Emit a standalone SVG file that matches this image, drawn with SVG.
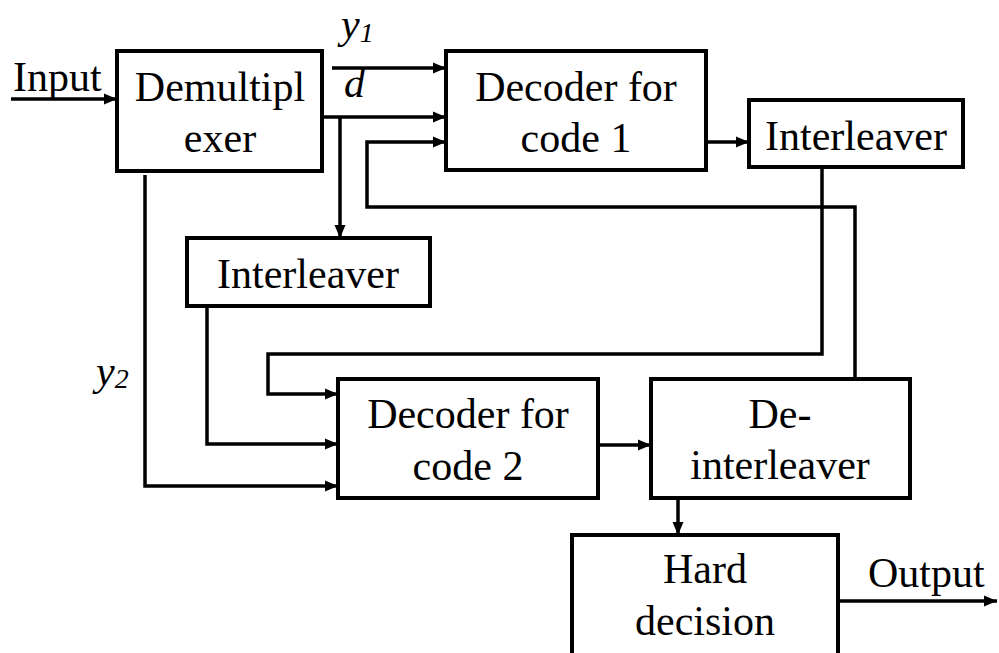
<svg xmlns="http://www.w3.org/2000/svg" width="999" height="653" viewBox="0 0 999 653">
<defs>
<marker id="ah" markerUnits="userSpaceOnUse" markerWidth="14" markerHeight="12" refX="13" refY="6" orient="auto">
<path d="M0,0.5 L13,6 L0,11.5 z" fill="#000"/>
</marker>
</defs>
<style>
.box{fill:#fff;stroke:#000;stroke-width:4}
.ln{fill:none;stroke:#000;stroke-width:3.5;marker-end:url(#ah)}
.t{font-family:'Liberation Serif','Times New Roman',serif;font-size:42px;fill:#000}
.c{text-anchor:middle}
.it{font-style:italic}
</style>
<rect width="999" height="653" fill="#fff"/>
<g id="connectors">
<path class="ln" d="M11,99 H117"/>
<path class="ln" d="M332,68 H446"/>
<path class="ln" d="M322,117 H446"/>
<path class="ln" d="M340,117 V238"/>
<path class="ln" d="M855,379 V207 H367 V142 H446"/>
<path class="ln" d="M706,142 H749"/>
<path class="ln" d="M822,167 V354 H268 V394 H338"/>
<path class="ln" d="M207,306 V444 H338"/>
<path class="ln" d="M145,175 V486 H338"/>
<path class="ln" d="M598,445 H651"/>
<path class="ln" d="M678,498 V535"/>
<path class="ln" d="M838,601 H997"/>
</g>
<g id="labels">
<text class="t" x="13" y="91">Input</text>
<text class="t it" x="341" y="38">y<tspan font-size="28" dy="4">1</tspan></text>
<text class="t it" x="344" y="97">d</text>
<text class="t it" x="96" y="385">y<tspan font-size="28" dy="3">2</tspan></text>
<text class="t" x="868" y="587">Output</text>
</g>
<g id="demux">
<rect class="box" x="117" y="51" width="205" height="120"/>
<text class="t c" x="220" y="101">Demultipl</text>
<text class="t c" x="220" y="152">exer</text>
</g>
<g id="decoder1">
<rect class="box" x="446" y="51" width="260" height="119"/>
<text class="t c" x="576" y="101">Decoder for</text>
<text class="t c" x="576" y="152">code 1</text>
</g>
<g id="interleaver1">
<rect class="box" x="749" y="100" width="214" height="67"/>
<text class="t c" x="856" y="150">Interleaver</text>
</g>
<g id="interleaver2">
<rect class="box" x="187" y="238" width="243" height="68"/>
<text class="t c" x="308" y="288">Interleaver</text>
</g>
<g id="decoder2">
<rect class="box" x="338" y="379" width="260" height="119"/>
<text class="t c" x="468" y="428">Decoder for</text>
<text class="t c" x="468" y="480">code 2</text>
</g>
<g id="deinterleaver">
<rect class="box" x="651" y="379" width="259" height="119"/>
<text class="t c" x="780" y="428">De-</text>
<text class="t c" x="780" y="479">interleaver</text>
</g>
<g id="hard">
<rect class="box" x="572" y="535" width="266" height="130"/>
<text class="t c" x="705" y="583">Hard</text>
<text class="t c" x="705" y="635">decision</text>
</g>
</svg>
